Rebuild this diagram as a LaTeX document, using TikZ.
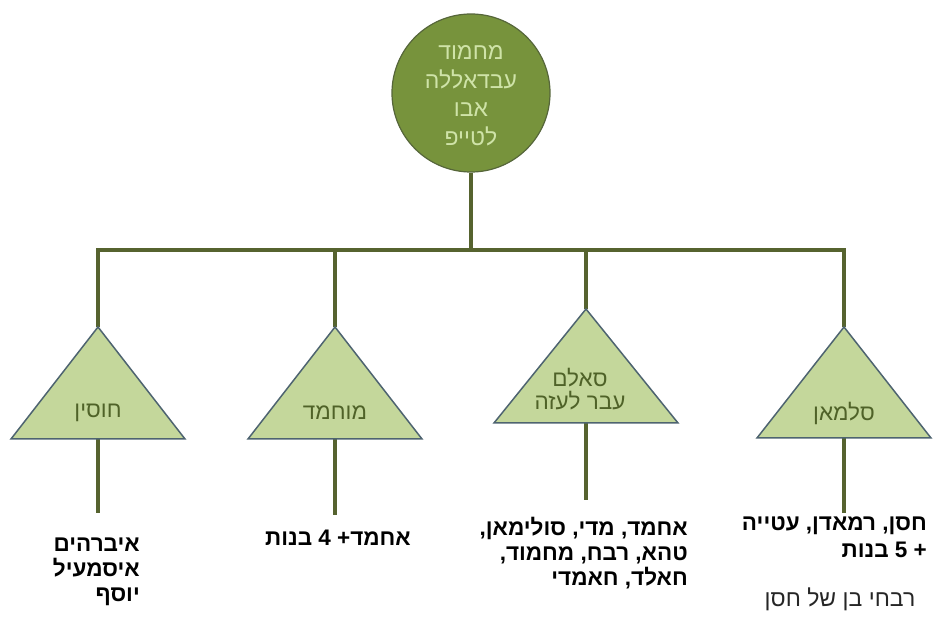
\documentclass[tikz,border=0pt]{standalone}
\usepackage{fontspec}
\setmainfont{Liberation Sans}
\newfontfamily\heb[Script=Hebrew]{Liberation Sans}
\TeXXeTstate=1
\definecolor{linecol}{HTML}{56632F}
\definecolor{circfill}{HTML}{77933C}
\definecolor{circedge}{HTML}{56663A}
\definecolor{circtext}{HTML}{CFE3A8}
\definecolor{trifill}{HTML}{C4D79B}
\definecolor{triedge}{HTML}{4E6470}
\definecolor{tritext}{HTML}{4F6228}
\tikzset{
  conn/.style={draw=linecol, line width=4.5pt},
  tri/.style={fill=trifill, draw=triedge, line width=1.5pt, line join=miter},
  tritxt/.style={text=tritext, font=\heb\fontsize{22.5}{23}\selectfont, align=center, inner sep=0pt},
  kids/.style={text=black, font=\heb\bfseries\fontsize{22.5}{25}\selectfont, align=right, inner sep=0pt},
  note/.style={text=black!85, font=\heb\fontsize{23}{25}\selectfont, inner sep=0pt}
}
\begin{document}
\begin{tikzpicture}[x=1pt,y=-1pt]
\useasboundingbox (0,0) rectangle (946,617);
% root
\node[circle, fill=circfill, draw=circedge, line width=1.2pt, minimum size=158pt, inner sep=0pt] (root) at (471,93) {};
\node[text=circtext, font=\heb\fontsize{23}{28.5}\selectfont, align=center, inner sep=0pt] (roottxt) at (471,96)
  {\beginR מחמוד\endR\\\beginR עבדאללה\endR\\\beginR אבו\endR\\\beginR לטייפ\endR};
% bus
\coordinate (b1) at (98,250);
\coordinate (b2) at (335,250);
\coordinate (b3) at (586,250);
\coordinate (b4) at (844,250);
\coordinate (broot) at (471,250);
% triangle apexes and corners
\coordinate (a1) at (98,327);  \coordinate (l1) at (11,439);  \coordinate (r1) at (185,439);
\coordinate (a2) at (335,327); \coordinate (l2) at (248,439); \coordinate (r2) at (422,439);
\coordinate (a3) at (586,309); \coordinate (l3) at (494,423); \coordinate (r3) at (678,423);
\coordinate (a4) at (844,327); \coordinate (l4) at (757,438); \coordinate (r4) at (931,438);
\coordinate (m1) at (98,439);  \coordinate (e1) at (98,513);
\coordinate (m2) at (335,439); \coordinate (e2) at (335,515);
\coordinate (m3) at (586,423); \coordinate (e3) at (586,500);
\coordinate (m4) at (844,438); \coordinate (e4) at (844,513);
% connectors
\draw[conn] (a1) -- (b1) -- (b4) -- (a4);
\draw[conn] (root.south) -- (broot);
\draw[conn] (b2) -- (a2);
\draw[conn] (b3) -- (a3);
\draw[conn] (m1) -- (e1);
\draw[conn] (m2) -- (e2);
\draw[conn] (m3) -- (e3);
\draw[conn] (m4) -- (e4);
% triangles
\draw[tri] (a1) -- (l1) -- (r1) -- cycle;
\draw[tri] (a2) -- (l2) -- (r2) -- cycle;
\draw[tri] (a3) -- (l3) -- (r3) -- cycle;
\draw[tri] (a4) -- (l4) -- (r4) -- cycle;
\node[tritxt] (t1) at (98,413) {\beginR חוסין\endR};
\node[tritxt] (t2) at (335,413) {\beginR מוחמד\endR};
\node[tritxt] (t3) at (580,389) {\beginR סאלם\endR\\\beginR עבר לעזה\endR};
\node[tritxt] (t4) at (844,413) {\beginR סלמאן\endR};
% children texts
\node[kids, anchor=east] (k1) at (140,572) {\beginR איברהים\endR\\\beginR איסמעיל\endR\\\beginR יוסף\endR};
\node[kids] (k2) at (338,538) {\beginR אחמד+ 4 בנות\endR};
\node[kids, anchor=east] (k3) at (688,553) {\beginR אחמד, מדי, סולימאן,\endR\\\beginR טהא, רבח, מחמוד,\endR\\\beginR חאלד, חאמדי\endR};
\node[kids, anchor=east, font=\heb\bfseries\fontsize{22.5}{27}\selectfont] (k4) at (927,537) {\beginR חסן, רמאדן, עטייה\endR\\\beginR + 5 בנות\endR};
\node[note] (n4) at (840,599) {\beginR רבחי בן של חסן\endR};
\end{tikzpicture}
\end{document}
